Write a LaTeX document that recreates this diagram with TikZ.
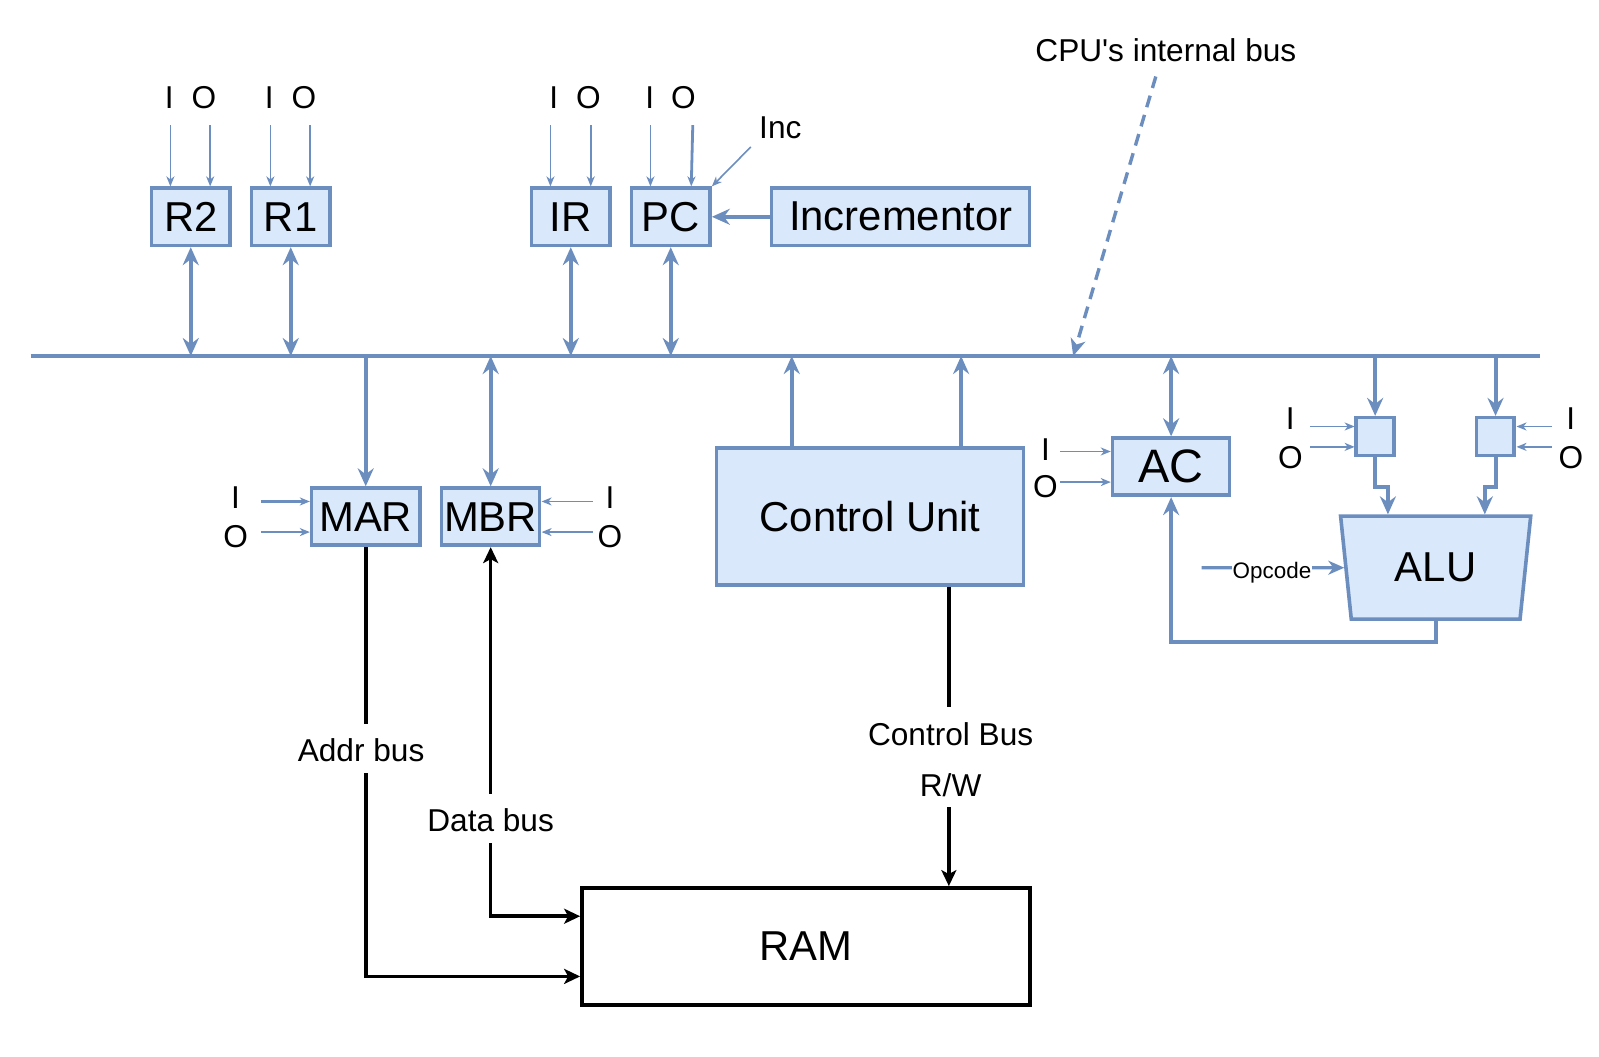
\documentclass[tikz,border=0pt]{standalone}
\usepackage{fontspec}
\setmainfont{Liberation Sans}
\usetikzlibrary{arrows.meta,shapes.geometric,calc}
\definecolor{bstroke}{HTML}{6C8EBF}
\definecolor{bfill}{HTML}{DAE8FC}
\begin{document}
\begin{tikzpicture}[x=1pt,y=-1pt,scale=1.02,every node/.append style={transform shape},
  box/.style={draw=bstroke,fill=bfill,line width=3.6pt,inner sep=0pt,font=\fontsize{41}{48}\selectfont,minimum height=56pt},
  lbl/.style={anchor=base,inner sep=0pt,font=\fontsize{31}{36}\selectfont},
  wlbl/.style={lbl,fill=white,inner xsep=2pt,inner ysep=0pt,text height=37pt,text depth=11pt},
  bline/.style={draw=bstroke,line width=4pt},
  barrow/.style={bline,-{Stealth[length=18pt,width=16pt,inset=6pt]}},
  bdarrow/.style={bline,{Stealth[length=18pt,width=16pt,inset=6pt]}-{Stealth[length=18pt,width=16pt,inset=6pt]}},
  tarrow/.style={draw=bstroke,line width=1.6pt,-{Stealth[length=10pt,width=8pt,inset=3pt]}},
  karrow/.style={draw=black,line width=3.6pt,-{Stealth[length=16pt,width=15pt,inset=4pt]}},
  kdarrow/.style={draw=black,line width=3.6pt,{Stealth[length=16pt,width=15pt,inset=4pt]}-{Stealth[length=16pt,width=15pt,inset=4pt]}},
]
\useasboundingbox (0,0) rectangle (1567.65,1036.27);

% boxes
\node[box,minimum width=77pt] (R2) at (187,212.5) {R2};
\node[box,minimum width=77pt] (R1) at (285,212.5) {R1};
\node[box,minimum width=77pt] (IR) at (559.5,212.5) {IR};
\node[box,minimum width=77pt] (PC) at (657.5,212.5) {PC};
\node[box,minimum width=253pt] (Inc) at (883,212.5) {Incrementor};
\node[box,minimum width=106pt] (MAR) at (358.5,506.5) {MAR};
\node[box,minimum width=96pt] (MBR) at (481,506.5) {MBR};
\node[box,minimum width=301pt,minimum height=134pt] (CU) at (853,506.5) {Control Unit};
\node[box,minimum width=115pt,font=\fontsize{46}{54}\selectfont] (AC) at (1148,457.5) {AC};
\node[box,minimum width=37pt,minimum height=37pt] (sb1) at (1348,428) {};
\node[box,minimum width=37pt,minimum height=37pt] (sb2) at (1466,428) {};
\node[box,trapezium,trapezium left angle=80,trapezium right angle=80,shape border rotate=180,trapezium stretches=true,minimum width=187pt,minimum height=101pt] (ALU) at (1407.5,556.5) {ALU};
\node[draw=black,line width=3.8pt,fill=white,inner sep=0pt,minimum width=439pt,minimum height=115pt,font=\fontsize{41}{48}\selectfont] (RAM) at (790,928) {RAM};

% bus
\coordinate (busL) at (30,349);
\coordinate (busR) at (1510,349);
\draw[bline] (busL) -- (busR);

% register <-> bus
\draw[bdarrow] (R2.south) -- (R2.south |- busL);
\draw[bdarrow] (R1.south) -- (R1.south |- busL);
\draw[bdarrow] (IR.south) -- (IR.south |- busL);
\draw[bdarrow] (PC.south) -- (PC.south |- busL);
\draw[barrow] (Inc.west) -- (PC.east);
\draw[barrow] (MAR.north |- busL) -- (MAR.north);
\draw[bdarrow] (MBR.north |- busL) -- (MBR.north);
\draw[bdarrow] (AC.north |- busL) -- (AC.north);
\draw[barrow] (sb1.north |- busL) -- (sb1.north);
\draw[barrow] (sb2.north |- busL) -- (sb2.north);
\coordinate (cu1) at ([xshift=-77pt]CU.north);
\coordinate (cu2) at ([xshift=89pt]CU.north);
\draw[barrow] (cu1) -- (cu1 |- busL);
\draw[barrow] (cu2) -- (cu2 |- busL);

% I/O control arrows (top)
\coordinate (r2i) at ([xshift=-20pt]R2.north);
\coordinate (r2o) at ([xshift=19pt]R2.north);
\coordinate (r1i) at ([xshift=-20pt]R1.north);
\coordinate (r1o) at ([xshift=19pt]R1.north);
\coordinate (iri) at ([xshift=-20pt]IR.north);
\coordinate (iro) at ([xshift=19.5pt]IR.north);
\coordinate (pci) at ([xshift=-20pt]PC.north);
\coordinate (pco) at ([xshift=20pt]PC.north);
\foreach \c in {r2i,r2o,r1i,r1o,iri,iro,pci}{
  \draw[tarrow] (\c) ++(0,-60) -- (\c);
}
\draw[tarrow,line width=2.8pt] (pco) ++(1.5,-60) -- (pco);
\coordinate (incS) at (736,144);
\draw[tarrow] (incS) -- (PC.north east);

% I/O control arrows (side)
\coordinate (mari) at ([yshift=15pt]MAR.west);
\coordinate (maro) at ([yshift=-15pt]MAR.west);
\draw[tarrow,line width=2.6pt] (mari) ++(-48,0) -- (mari);
\draw[tarrow] (maro) ++(-48,0) -- (maro);
\coordinate (mbri) at ([yshift=15pt]MBR.east);
\coordinate (mbro) at ([yshift=-15pt]MBR.east);
\draw[tarrow] (mbri) ++(50,0) -- (mbri);
\draw[tarrow] (mbro) ++(50,0) -- (mbro);
\coordinate (aci) at ([yshift=15pt]AC.west);
\coordinate (aco) at ([yshift=-15pt]AC.west);
\draw[tarrow] (aci) ++(-50,0) -- (aci);
\draw[tarrow] (aco) ++(-50,0) -- (aco);
\coordinate (s1i) at ([yshift=10pt]sb1.west);
\coordinate (s1o) at ([yshift=-10pt]sb1.west);
\draw[tarrow] (s1i) ++(-44,0) -- (s1i);
\draw[tarrow] (s1o) ++(-44,0) -- (s1o);
\coordinate (s2i) at ([yshift=10pt]sb2.east);
\coordinate (s2o) at ([yshift=-10pt]sb2.east);
\draw[tarrow] (s2i) ++(35,0) -- (s2i);
\draw[tarrow] (s2o) ++(35,0) -- (s2o);

% ALU paths
\draw[barrow] (sb1.south) -- ++(0,29) -| ($(ALU.north)+(-47,0)$);
\draw[barrow] (sb2.south) -- ++(0,29) -| ($(ALU.north)+(48,0)$);
\draw[barrow] (ALU.south) -- ++(0,20.5) -| (AC.south);
\coordinate (opS) at (1178,556.5);
\draw[bline,line width=3.4pt,-{Stealth[length=16pt,width=14pt,inset=5pt]}] (opS) -- (ALU.west);

% CPU's internal bus pointer
\coordinate (dashS) at (1133,75);
\coordinate (dashE) at (1052,349);
\draw[bline,line width=3.4pt,dash pattern=on 12pt off 8pt,-{Stealth[length=17pt,width=15pt,inset=5pt]}] (dashS) -- (dashE);

% external buses
\coordinate (ramA) at ([yshift=-29pt]RAM.west);
\coordinate (ramD) at ([yshift=30pt]RAM.west);
\coordinate (cuB) at ([xshift=77pt]CU.south);
\draw[karrow] (MAR.south) |- (ramA);
\draw[kdarrow] (ramD) -| (MBR.south);
\draw[karrow] (cuB) -- (cuB |- RAM.north);

% labels
\node[lbl] (tcpu) at (1143,60) {CPU\textquotesingle s internal bus};
\node[lbl] (l1) at (166,106) {I};
\node[lbl] (l2) at (200,106) {O};
\node[lbl] (l3) at (264,106) {I};
\node[lbl] (l4) at (298,106) {O};
\node[lbl] (l5) at (543,106) {I};
\node[lbl] (l6) at (577,106) {O};
\node[lbl] (l7) at (637,106) {I};
\node[lbl] (l8) at (670,106) {O};
\node[lbl] (linc) at (765,136) {Inc};
\node[lbl] (l9) at (231,499) {I};
\node[lbl] (l10) at (231,537) {O};
\node[lbl] (l11) at (598,499) {I};
\node[lbl] (l12) at (598,537) {O};
\node[lbl] (l13) at (1025,451) {I};
\node[lbl] (l14) at (1025,488) {O};
\node[lbl] (l15) at (1265,421) {I};
\node[lbl] (l16) at (1265,459) {O};
\node[lbl] (l17) at (1540,421) {I};
\node[lbl] (l18) at (1540,459) {O};
\node[lbl,font=\fontsize{22}{26}\selectfont,fill=white,inner sep=1pt] (lop) at (1247,567) {Opcode};
\node[wlbl] (laddr) at (354,747) {Addr bus};
\node[wlbl] (ldata) at (481,815.5) {Data bus};
\node[wlbl,text depth=25pt] (lcb) at (932,730.5) {Control Bus};
\node[wlbl] (lrw) at (932,780.5) {R/W};
\end{tikzpicture}
\end{document}
